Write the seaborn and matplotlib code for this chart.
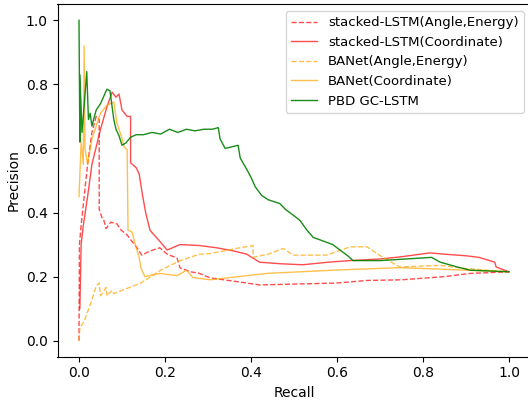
import numpy as np
import pandas as pd
import seaborn as sns
import matplotlib
matplotlib.use("Agg")
import matplotlib.pyplot as plt

# ---------------------------------------------
# dane (recall, precision)
# ---------------------------------------------

lstm_ae_recall = [0.0, 0.001, 0.005, 0.012, 0.02, 0.03, 0.04, 0.047, 0.047, 0.053, 0.058,
                  0.063, 0.074, 0.088, 0.098, 0.112, 0.123, 0.135, 0.146, 0.165, 0.188,
                  0.205, 0.228, 0.235, 0.26, 0.28, 0.305, 0.374, 0.42, 0.51, 0.6, 0.67,
                  0.75, 0.85, 0.91, 1.0]
lstm_ae_prec = [0.0, 0.30, 0.36, 0.45, 0.55, 0.65, 0.70, 0.69, 0.41, 0.385, 0.375,
                0.35, 0.37, 0.365, 0.345, 0.33, 0.31, 0.29, 0.267, 0.28, 0.29,
                0.27, 0.258, 0.227, 0.215, 0.21, 0.196, 0.183, 0.174, 0.177, 0.18, 0.188,
                0.19, 0.2, 0.21, 0.215]

lstm_co_recall = [0.002, 0.005, 0.01, 0.02, 0.03, 0.05, 0.065, 0.077, 0.086, 0.093, 0.1,
                  0.112, 0.12, 0.12, 0.133, 0.14, 0.147, 0.155, 0.165, 0.188, 0.205,
                  0.235, 0.28, 0.32, 0.36, 0.39, 0.42, 0.47, 0.52, 0.58, 0.63, 0.7,
                  0.75, 0.816, 0.85, 0.9, 0.93, 0.967, 0.97, 1.0]
lstm_co_prec = [0.1, 0.3, 0.36, 0.45, 0.55, 0.66, 0.73, 0.776, 0.76, 0.77, 0.72,
                0.70, 0.70, 0.555, 0.54, 0.52, 0.46, 0.40, 0.345, 0.31, 0.283,
                0.30, 0.297, 0.29, 0.28, 0.27, 0.245, 0.24, 0.237, 0.245, 0.25, 0.255,
                0.262, 0.274, 0.27, 0.265, 0.26, 0.245, 0.23, 0.215]

banet_ae_recall = [0.0, 0.002, 0.012, 0.028, 0.04, 0.047, 0.05, 0.063, 0.065, 0.077, 0.081,
                   0.1, 0.144, 0.19, 0.235, 0.28, 0.305, 0.374, 0.405, 0.405, 0.44,
                   0.475, 0.498, 0.576, 0.63, 0.67, 0.704, 0.72, 0.746, 0.8, 0.84, 0.9, 1.0]
banet_ae_prec = [0.0, 0.04, 0.06, 0.12, 0.17, 0.18, 0.14, 0.166, 0.14, 0.157, 0.147,
                 0.157, 0.18, 0.22, 0.25, 0.27, 0.272, 0.29, 0.297, 0.26, 0.27,
                 0.288, 0.267, 0.267, 0.293, 0.293, 0.262, 0.25, 0.23, 0.233, 0.235, 0.225, 0.215]

banet_co_recall = [0.0, 0.005, 0.01, 0.012, 0.014, 0.02, 0.03, 0.05, 0.065, 0.081, 0.088,
                   0.098, 0.105, 0.112, 0.114, 0.123, 0.133, 0.14, 0.144, 0.153, 0.188,
                   0.228, 0.25, 0.265, 0.305, 0.437, 0.59, 0.746, 1.0]
banet_co_prec = [0.45, 0.62, 0.55, 0.92, 0.6, 0.55, 0.63, 0.71, 0.735, 0.745, 0.68,
                 0.64, 0.605, 0.595, 0.345, 0.34, 0.29, 0.26, 0.227, 0.20, 0.21,
                 0.203, 0.22, 0.197, 0.19, 0.21, 0.22, 0.228, 0.215]

gc_recall = [0.0, 0.002, 0.002, 0.007, 0.01, 0.018, 0.022, 0.026, 0.03, 0.04, 0.05,
             0.065, 0.072, 0.081, 0.086, 0.093, 0.1, 0.109, 0.12, 0.133, 0.15,
             0.17, 0.19, 0.21, 0.23, 0.25, 0.27, 0.29, 0.31, 0.324, 0.328, 0.34,
             0.37, 0.375, 0.39, 0.40, 0.41, 0.425, 0.44, 0.467, 0.48, 0.50, 0.514,
             0.53, 0.545, 0.56, 0.59, 0.61, 0.625, 0.637, 0.70, 0.76, 0.82, 0.84,
             0.88, 0.91, 1.0]
gc_prec = [1.0, 0.62, 0.83, 0.65, 0.70, 0.84, 0.69, 0.71, 0.67, 0.72, 0.74,
           0.785, 0.78, 0.69, 0.66, 0.64, 0.61, 0.617, 0.635, 0.643, 0.643,
           0.65, 0.645, 0.66, 0.65, 0.66, 0.655, 0.66, 0.66, 0.665, 0.63, 0.60,
           0.61, 0.57, 0.535, 0.51, 0.48, 0.453, 0.44, 0.428, 0.41, 0.39, 0.375,
           0.345, 0.322, 0.315, 0.30, 0.28, 0.265, 0.25, 0.25, 0.255, 0.26, 0.245,
           0.23, 0.22, 0.215]

# ---------------------------------------------
# wykres
# ---------------------------------------------

fig = plt.figure(figsize=(5.28, 4.0), dpi=100)
ax = fig.add_axes([57.5 / 528, 43.3 / 400, 473 / 528, 352.4 / 400])

serie = [
    (lstm_ae_recall, lstm_ae_prec, "stacked-LSTM(Angle,Energy)", "red", "--", 0.7),
    (lstm_co_recall, lstm_co_prec, "stacked-LSTM(Coordinate)", "red", "-", 0.7),
    (banet_ae_recall, banet_ae_prec, "BANet(Angle,Energy)", "orange", "--", 0.7),
    (banet_co_recall, banet_co_prec, "BANet(Coordinate)", "orange", "-", 0.7),
    (gc_recall, gc_prec, "PBD GC-LSTM", "green", "-", 0.9),
]

for rec, prec, nazwa, kolor, styl, a in serie:
    sns.lineplot(x=rec, y=prec, ax=ax, sort=False, estimator=None,
                 color=kolor, linestyle=styl, linewidth=1.0, alpha=a, label=nazwa)

ax.set_xlim(-0.05, 1.05)
ax.set_ylim(-0.05, 1.05)
ax.set_xticks([0.0, 0.2, 0.4, 0.6, 0.8, 1.0])
ax.set_yticks([0.0, 0.2, 0.4, 0.6, 0.8, 1.0])
ax.set_xlabel("Recall")
ax.set_ylabel("Precision")
ax.spines["right"].set_visible(False)  # w oryginale prawa krawedz jest ucieta
ax.legend(loc="upper right", fontsize=9.5)

fig.savefig("out.png", dpi=100)
